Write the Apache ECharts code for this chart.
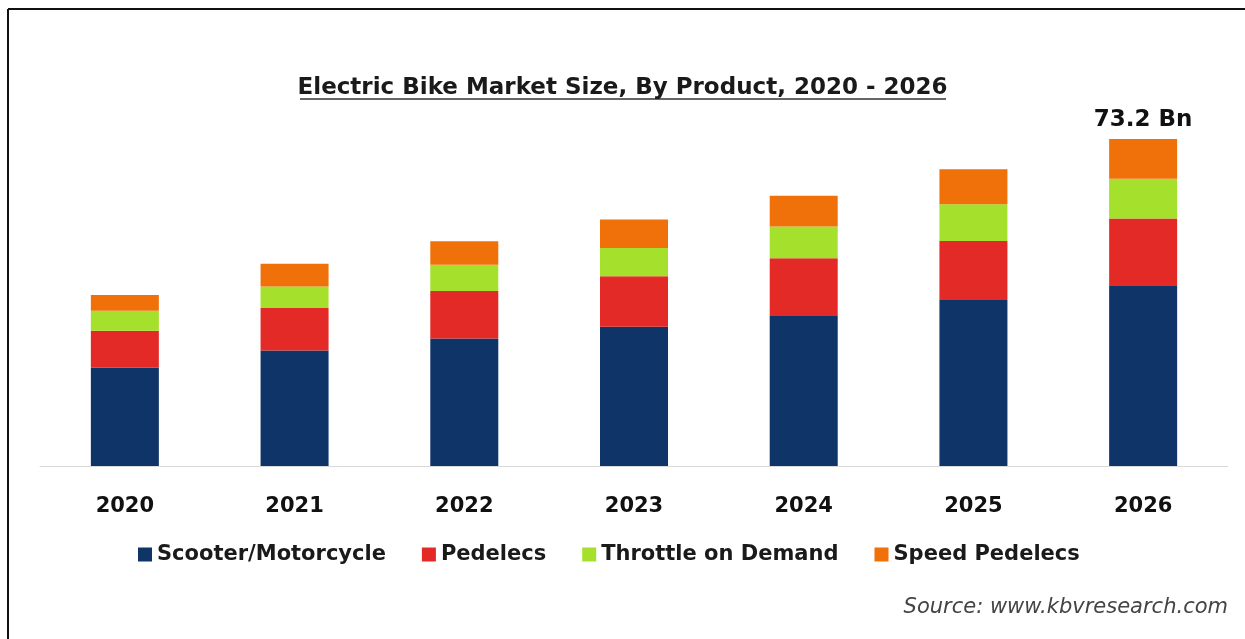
<!DOCTYPE html>
<html>
<head>
<meta charset="utf-8">
<script src="https://cdn.jsdelivr.net/npm/echarts@6/dist/echarts.min.js"></script>
<style>
html,body{margin:0;padding:0;background:#fff;}
#chart{width:1245px;height:639px;}
</style>
</head>
<body>
<div id="chart"></div>
<script>
const years = ['2020','2021','2022','2023','2024','2025','2026'];
const scooter = [22.0, 25.8, 28.5, 31.1, 33.7, 37.1, 40.4];
const pedelecs = [8.2, 9.5, 10.6, 11.3, 12.7, 13.2, 14.9];
const throttle = [4.5, 4.8, 5.9, 6.3, 7.1, 8.2, 8.9];
const speedPedelecs = [3.5, 5.1, 5.2, 6.4, 6.9, 7.8, 8.9];
const seriesNames = ['Scooter/Motorcycle', 'Pedelecs', 'Throttle on Demand', 'Speed Pedelecs'];
const lastLabel = '73.2 Bn';

const colors = ['#0e3468', '#e42a27', '#a5e02c', '#f0710a'];
const fontFam = '"DejaVu Sans", sans-serif';

const chart = echarts.init(document.getElementById('chart'));
const dataSets = [scooter, pedelecs, throttle, speedPedelecs];

const series = dataSets.map((d, i) => ({
  name: seriesNames[i],
  type: 'bar',
  stack: 'total',
  barWidth: 68,
  itemStyle: { color: colors[i] },
  data: d.map((v, j) => {
    if (i === 3 && j === d.length - 1) {
      return {
        value: v,
        label: {
          show: true, position: 'top', distance: 7,
          formatter: lastLabel,
          fontFamily: fontFam, fontWeight: 'bold', fontSize: 23, color: '#111'
        }
      };
    }
    return v;
  })
}));

chart.setOption({
  animation: false,
  color: colors,
  title: {
    text: 'Electric Bike Market Size, By Product, 2020 - 2026',
    left: 'center',
    top: 72,
    textStyle: { fontFamily: fontFam, fontWeight: 'bold', fontSize: 23, color: '#1a1a1a' }
  },
  grid: { left: 40, right: 17, top: 108, bottom: 173, containLabel: false },
  xAxis: {
    type: 'category',
    data: years,
    axisLine: { lineStyle: { color: '#d9d9d9', width: 1 } },
    axisTick: { show: false },
    axisLabel: { margin: 30, fontFamily: fontFam, fontWeight: 'bold', fontSize: 21, color: '#111' }
  },
  yAxis: {
    type: 'value', min: 0, max: 80,
    show: false,
    splitLine: { show: false }
  },
  legend: {
    data: seriesNames,
    left: 133,
    top: 539,
    itemWidth: 14, itemHeight: 14,
    icon: 'rect',
    itemGap: 36,
    itemTextGap: 6,
    textStyle: { fontFamily: fontFam, fontWeight: 'bold', fontSize: 21, color: '#1a1a1a' }
  },
  graphic: [
    { type: 'line', shape: { x1: 8, y1: 9, x2: 1245, y2: 9 }, style: { stroke: '#111', lineWidth: 2 } },
    { type: 'line', shape: { x1: 8, y1: 9, x2: 8, y2: 639 }, style: { stroke: '#111', lineWidth: 2 } },
    { type: 'line', shape: { x1: 300, y1: 99, x2: 946, y2: 99 }, style: { stroke: '#333', lineWidth: 1.5 } },
    {
      type: 'text', right: 17, top: 597,
      style: { text: 'Source: www.kbvresearch.com', font: 'italic 21px ' + fontFam, fill: '#444' }
    }
  ],
  series: series
});
</script>
</body>
</html>
